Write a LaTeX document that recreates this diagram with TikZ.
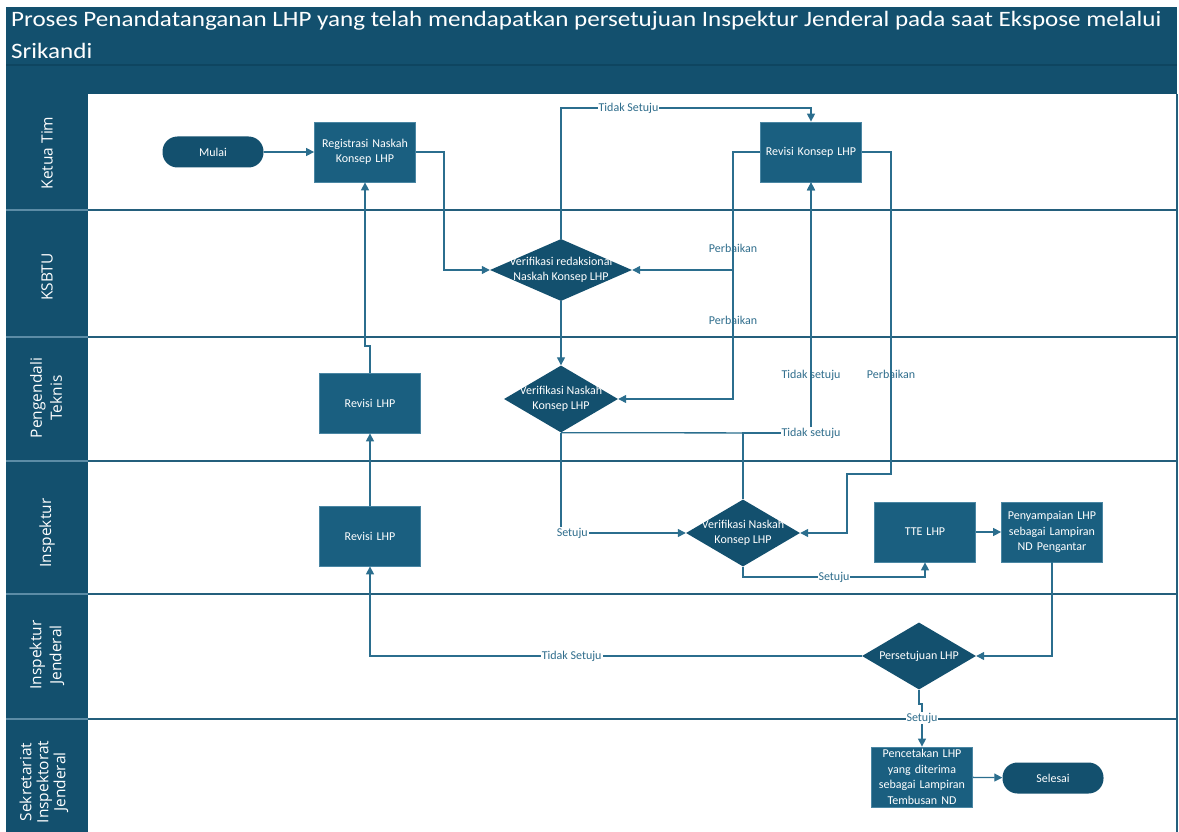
\documentclass[tikz,border=0pt]{standalone}
\usepackage{fontspec}
\setmainfont{Carlito}
\newfontfamily\lanefont{Open Sans}
\newfontfamily\titlefont[FakeStretch=1.14]{Carlito}
\usetikzlibrary{arrows.meta,shapes.geometric}

\definecolor{darkblue}{HTML}{13506E}
\definecolor{boxblue}{HTML}{1A5F80}
\definecolor{boxedge}{HTML}{4A86A3}
\definecolor{linecol}{HTML}{2B6E8E}
\definecolor{lblcol}{HTML}{2F6D8C}
\definecolor{lanecol}{HTML}{245F7C}
\definecolor{lanelight}{HTML}{5C8CA6}
\definecolor{sepcol}{HTML}{0E4560}

\tikzset{
    %Define standard arrow tip
    >={Triangle[length=8pt,width=8pt]},
    %Define style for boxes
    box/.style={
           rectangle,
           fill=boxblue,
           draw=boxedge, line width=0.8pt,
           minimum width=101pt,
           minimum height=60pt,
           inner sep=1pt,
           text width=99pt,
           align=center,
           text=white,
           font=\fontsize{12}{15.5}\selectfont},
    decision/.style={
           diamond,
           fill=darkblue,
           minimum width=114pt,
           minimum height=67pt,
           inner sep=0pt},
    dtext/.style={
           text=white,
           align=center,
           inner sep=0pt,
           font=\fontsize{12}{15.5}\selectfont},
    terminal/.style={
           rectangle,
           rounded corners=15pt,
           fill=darkblue,
           minimum width=101pt,
           minimum height=31pt,
           text=white,
           font=\fontsize{12}{15}\selectfont},
    lane/.style={
           rotate=90,
           text=white,
           align=center,
           inner sep=0pt,
           font=\lanefont\fontsize{15.5}{20}\selectfont},
    laneline/.style={
           draw=lanecol,
           line width=1.2pt},
    % Define arrow style
    arr/.style={
           ->,
           draw=linecol,
           line width=1.3pt},
    lbl/.style={
           text=lblcol,
           inner sep=1pt,
           font=\fontsize{12}{13}\selectfont},
    lblw/.style={
           lbl,
           fill=white}
}

\begin{document}
\begin{tikzpicture}[x=1pt,y=-1pt]
  \useasboundingbox (0,0) rectangle (1179,832);

  % header and lanes
  \fill[darkblue] (6,7) rectangle (1177,65);
  \fill[darkblue] (6,65) rectangle (1177,94);
  \draw[sepcol, line width=2pt] (6,65) -- (1177,65);
  \fill[darkblue] (6,94) rectangle (88,832);
  \foreach \y in {210,337,461,594,719} {
    \draw[laneline] (88,\y) -- (1177,\y);
    \draw[laneline, draw=lanelight] (6,\y) -- (88,\y);
  }
  \draw[laneline] (1177,94) -- (1177,832);

  \node[anchor=north west, inner sep=0pt, align=left, text=white,
        font=\titlefont\fontsize{22}{32}\selectfont] (title) at (11,11)
    {Proses Penandatanganan LHP yang telah mendapatkan persetujuan Inspektur Jenderal pada saat Ekspose melalui\\Srikandi};

  \node[lane] (ketua) at (47,153) {Ketua Tim};
  \node[lane] (ksbtu) at (47,277) {KSBTU};
  \node[lane] (pengendali) at (46,398) {Pengendali\\Teknis};
  \node[lane] (inspektur) at (47,533) {Inspektur};
  \node[lane] (irjen) at (47,655) {Inspektur\\Jenderal};
  \node[lane, font=\lanefont\fontsize{15.5}{17}\selectfont] (sekretariat) at (44,782)
    {Sekretariat\\Inspektorat\\Jenderal};

  % steps
  \node[terminal] (mulai) at (213,152) {Mulai};
  \node[box] (regis) at (365,152) {Registrasi Naskah Konsep LHP};
  \node[box] (revkonsep) at (811,152) {Revisi Konsep LHP};
  \node[decision, minimum width=142pt, minimum height=62pt,
        label={[dtext]center:Verifikasi redaksional\\Naskah Konsep LHP}] (verred) at (561,270) {};
  \node[decision, label={[dtext]center:Verifikasi Naskah\\Konsep LHP}] (verdal) at (561,399) {};
  \node[box] (revdal) at (370,403) {Revisi LHP};
  \node[box] (revins) at (370,536) {Revisi LHP};
  \node[decision, label={[dtext]center:Verifikasi Naskah\\Konsep LHP}] (verins) at (743,533) {};
  \node[box] (tte) at (925,532) {TTE LHP};
  \node[box] (kirim) at (1052,532) {Penyampaian LHP sebagai Lampiran ND Pengantar};
  \node[decision, label={[dtext]center:Persetujuan LHP}] (setuju) at (919,656) {};
  \node[box] (cetak) at (922,777) {Pencetakan LHP yang diterima sebagai Lampiran Tembusan ND};
  \node[terminal] (selesai) at (1053,778) {Selesai};

  % connectors
  \draw[arr] (mulai) -- (regis);
  \draw[arr] (regis.east) -- (444,152) |- (verred.west);
  \draw[arr] (verred.north) -- (561,108)
      -- node[lblw, pos=0.27]{Tidak Setuju} (811,108) -- (revkonsep.north);
  \draw[arr] (revkonsep.west) -- (733,152)
      -- node[lbl, pos=0.82]{Perbaikan} (733,270) -- (verred.east);
  \draw[arr] (revkonsep.west) -- (733,152)
      -- node[lbl, pos=0.68]{Perbaikan} (733,399) -- (verdal.east);
  \draw[arr] (verred.south) -- (verdal.north);
  \draw[arr] (verdal.south) -- (811,433)
      -- node[lbl, pos=0.23]{Tidak setuju} (revkonsep.south);
  \draw[arr] (verins.north) -- (743,433) -- (811,433)
      node[lblw]{Tidak setuju} -- (revkonsep.south);
  \draw[arr] (revkonsep.east) -- (891,152)
      -- node[lbl, pos=0.69]{Perbaikan} (891,474)
      -- (847,474) |- (verins.east);
  \draw[arr] (verdal.south) -- (561,533)
      -- node[lblw, pos=0.09]{Setuju} (verins.west);
  \draw[arr] (verins.south) -- (743,577)
      -- node[lblw]{Setuju} (925,577) -- (tte.south);
  \draw[arr] (tte) -- (kirim);
  \draw[arr] (kirim.south) |- (setuju.east);
  \draw[arr] (setuju.west) -- node[lblw, pos=0.59]{Tidak Setuju} (370,656) -- (revins.south);
  \draw[arr] (revins) -- (revdal);
  \draw[arr] (revdal.north) -- (370,346) -- (365,346) -- (regis.south);
  \draw[arr] (setuju.south) -- (919,704) -- (922,704)
      -- node[lblw, pos=0.33]{Setuju} (cetak.north);
  \draw[arr] (cetak) -- (selesai);
\end{tikzpicture}
\end{document}
